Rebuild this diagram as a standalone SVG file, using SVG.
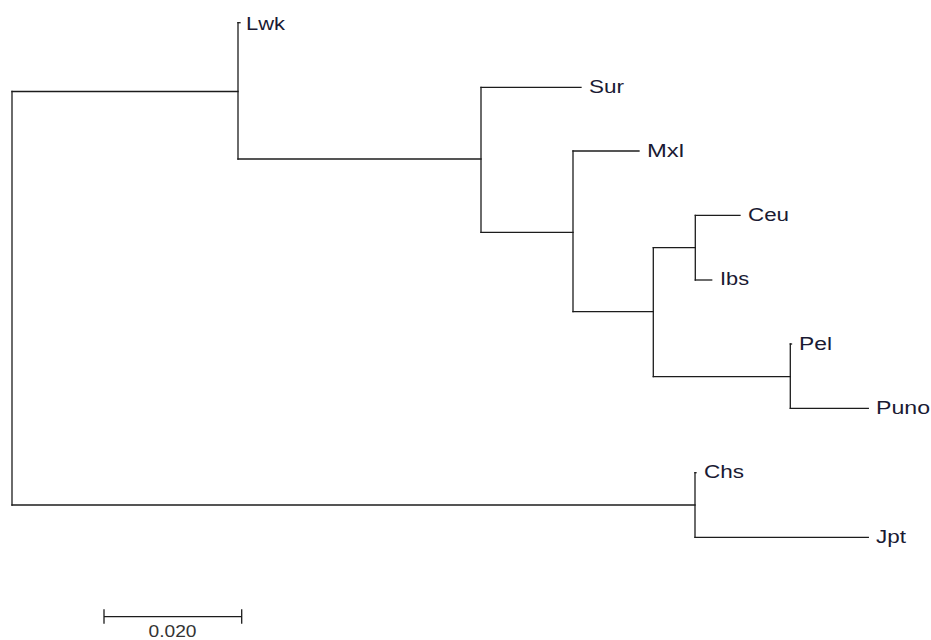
<svg xmlns="http://www.w3.org/2000/svg" width="931" height="640" viewBox="0 0 931 640">
  <style>
    .br { fill: none; stroke: #1c1c1c; stroke-width: 1.3; stroke-linecap: square; }
    .tx { font-family: "Liberation Sans", Arial, sans-serif; font-size: 18px; fill: #1a1a33; }
    .sc { font-family: "Liberation Sans", Arial, sans-serif; font-size: 17px; fill: #333333; }
  </style>
  <rect width="931" height="640" fill="#ffffff"/>

  <!-- Branches (rectangular cladogram) -->
  <g id="branches">
    <!-- root -->
    <path class="br" d="M12,91.5 V505"/>
    <path class="br" d="M12,91.5 H238"/>
    <path class="br" d="M12,505 H695"/>
    <!-- Lwk clade -->
    <path class="br" d="M238,22.7 V159"/>
    <path class="br" d="M238,22.7 H240"/>
    <path class="br" d="M238,159 H481"/>
    <!-- Sur clade -->
    <path class="br" d="M481,87.3 V232.3"/>
    <path class="br" d="M481,87.3 H581"/>
    <path class="br" d="M481,232.3 H573"/>
    <!-- Mxl clade -->
    <path class="br" d="M573,151 V311.7"/>
    <path class="br" d="M573,151 H639"/>
    <path class="br" d="M573,311.7 H653.3"/>
    <!-- European / Andean split -->
    <path class="br" d="M653.3,247.7 V376.7"/>
    <path class="br" d="M653.3,247.7 H695.3"/>
    <path class="br" d="M653.3,376.7 H790.3"/>
    <!-- Ceu / Ibs -->
    <path class="br" d="M695.3,215.3 V280"/>
    <path class="br" d="M695.3,215.3 H740"/>
    <path class="br" d="M695.3,280 H711.7"/>
    <!-- Pel / Puno -->
    <path class="br" d="M790.3,344 V408.3"/>
    <path class="br" d="M790.3,344 H791.5"/>
    <path class="br" d="M790.3,408.3 H868.3"/>
    <!-- Chs / Jpt -->
    <path class="br" d="M695,472.7 V537.3"/>
    <path class="br" d="M695,472.7 H696"/>
    <path class="br" d="M695,537.3 H868.3"/>
  </g>

  <!-- Taxon labels -->
  <g id="Lwk"><text class="tx" x="246" y="29.5" textLength="39" lengthAdjust="spacingAndGlyphs">Lwk</text></g>
  <g id="Sur"><text class="tx" x="589" y="92.5" textLength="35" lengthAdjust="spacingAndGlyphs">Sur</text></g>
  <g id="Mxl"><text class="tx" x="647" y="156.5" textLength="37" lengthAdjust="spacingAndGlyphs">Mxl</text></g>
  <g id="Ceu"><text class="tx" x="748" y="220.5" textLength="41" lengthAdjust="spacingAndGlyphs">Ceu</text></g>
  <g id="Ibs"><text class="tx" x="720" y="285" textLength="29" lengthAdjust="spacingAndGlyphs">Ibs</text></g>
  <g id="Pel"><text class="tx" x="799" y="349.5" textLength="33" lengthAdjust="spacingAndGlyphs">Pel</text></g>
  <g id="Puno"><text class="tx" x="876" y="413.5" textLength="54" lengthAdjust="spacingAndGlyphs">Puno</text></g>
  <g id="Chs"><text class="tx" x="704" y="478" textLength="40" lengthAdjust="spacingAndGlyphs">Chs</text></g>
  <g id="Jpt"><text class="tx" x="876" y="542.5" textLength="30" lengthAdjust="spacingAndGlyphs">Jpt</text></g>

  <!-- Scale bar -->
  <g id="scale-bar">
    <path class="br" d="M104,616.7 H241.7 M104,610 V623 M241.7,610 V623"/>
    <text class="sc" x="148.5" y="636.5" textLength="48" lengthAdjust="spacingAndGlyphs">0.020</text>
  </g>
</svg>
